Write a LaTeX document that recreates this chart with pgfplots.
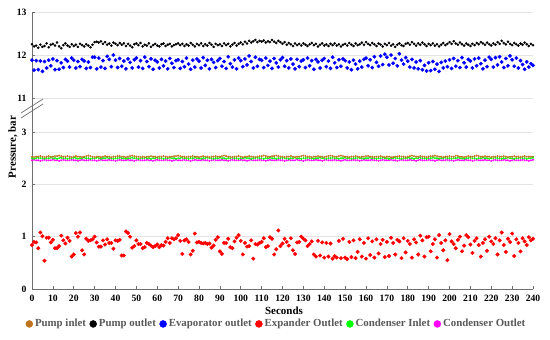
\documentclass[border=0pt]{standalone}
\usepackage{fontspec}
\setmainfont{Liberation Serif}
\usepackage{pgfplots}
\usepackage{pgfplotstable}
\pgfplotsset{compat=1.18}
\definecolor{brn}{HTML}{BF7320}
\definecolor{gridc}{HTML}{E4E4E4}
\definecolor{axc}{HTML}{6F6F6F}
\definecolor{legc}{HTML}{595959}
\definecolor{grn}{HTML}{00FF00}
\definecolor{mag}{HTML}{FF00FF}

\pgfplotstableread{
t pin pout evap expo cin cout
0 2.53 12.25 11.88 0.84 2.50 2.46
1 2.52 12.20 11.65 0.90 2.49 2.47
2 2.53 12.22 11.87 0.89 2.50 2.46
3 2.53 12.17 11.66 0.78 2.51 2.46
4 2.54 12.24 11.86 1.08 2.50 2.45
5 2.53 12.19 11.62 1.01 2.50 2.46
6 2.52 12.21 11.85 0.54 2.49 2.47
7 2.53 12.27 11.70 0.98 2.50 2.46
8 2.54 12.18 11.88 0.98 2.50 2.46
9 2.53 12.24 11.75 0.89 2.51 2.46
10 2.53 12.26 11.91 0.94 2.50 2.47
11 2.54 12.22 11.66 0.78 2.50 2.46
12 2.54 12.29 11.87 0.78 2.49 2.46
13 2.55 12.20 11.67 0.82 2.50 2.45
14 2.54 12.16 11.82 1.02 2.51 2.46
15 2.53 12.23 11.71 0.93 2.50 2.47
16 2.53 12.27 11.90 0.87 2.50 2.46
17 2.54 12.22 11.86 0.98 2.49 2.46
18 2.53 12.19 11.72 0.92 2.50 2.46
19 2.52 12.25 11.93 0.62 2.50 2.47
20 2.53 12.21 11.88 0.66 2.51 2.46
21 2.54 12.24 11.70 1.07 2.50 2.46
22 2.53 12.19 11.85 1.00 2.49 2.45
23 2.53 12.26 11.73 1.08 2.50 2.46
24 2.52 12.23 11.90 0.74 2.50 2.47
25 2.53 12.20 11.86 0.66 2.51 2.46
26 2.54 12.25 11.69 0.96 2.50 2.46
27 2.55 12.22 11.84 0.92 2.50 2.46
28 2.54 12.18 11.71 0.93 2.49 2.47
29 2.53 12.24 11.95 0.95 2.50 2.46
30 2.52 12.30 11.95 1.00 2.50 2.46
31 2.53 12.31 11.68 0.89 2.51 2.45
32 2.53 12.29 11.93 0.81 2.50 2.46
33 2.52 12.32 11.72 0.81 2.49 2.47
34 2.53 12.26 11.87 0.93 2.50 2.46
35 2.54 12.30 11.69 0.85 2.50 2.46
36 2.53 12.24 11.97 0.95 2.51 2.46
37 2.53 12.27 11.90 0.88 2.50 2.47
38 2.52 12.22 11.73 0.88 2.50 2.46
39 2.53 12.29 12.00 0.77 2.49 2.46
40 2.53 12.26 11.88 0.93 2.50 2.45
41 2.54 12.23 11.71 0.92 2.50 2.46
42 2.54 12.28 11.92 0.94 2.51 2.47
43 2.53 12.24 11.74 0.64 2.50 2.46
44 2.53 12.27 11.86 0.64 2.50 2.46
45 2.52 12.21 11.68 1.10 2.49 2.46
46 2.53 12.26 11.91 1.07 2.50 2.47
47 2.54 12.22 11.83 1.00 2.50 2.46
48 2.55 12.18 11.70 0.79 2.51 2.46
49 2.54 12.25 11.89 0.82 2.50 2.45
50 2.53 12.27 11.93 0.93 2.50 2.46
51 2.53 12.23 11.72 0.86 2.49 2.47
52 2.52 12.28 11.87 0.86 2.50 2.46
53 2.53 12.20 11.69 0.78 2.50 2.46
54 2.52 12.24 11.95 0.80 2.51 2.46
55 2.53 12.22 11.85 0.88 2.50 2.47
56 2.53 12.27 11.73 0.86 2.50 2.46
57 2.54 12.19 11.91 0.83 2.49 2.46
58 2.53 12.23 11.67 0.80 2.50 2.45
59 2.53 12.26 11.88 0.82 2.50 2.46
60 2.52 12.22 11.84 0.85 2.51 2.47
61 2.53 12.20 11.70 0.80 2.50 2.46
62 2.53 12.25 11.90 0.84 2.50 2.46
63 2.54 12.27 11.75 0.83 2.49 2.46
64 2.53 12.21 11.86 0.90 2.50 2.47
65 2.52 12.24 11.68 0.97 2.50 2.46
66 2.53 12.26 11.92 0.88 2.51 2.46
67 2.53 12.20 11.81 0.97 2.50 2.45
68 2.54 12.23 11.71 0.95 2.50 2.46
69 2.54 12.25 11.87 0.97 2.49 2.47
70 2.55 12.27 11.89 1.03 2.50 2.46
71 2.54 12.23 11.69 0.92 2.50 2.46
72 2.53 12.26 11.85 0.67 2.51 2.46
73 2.53 12.21 11.73 0.93 2.50 2.47
74 2.52 12.25 11.93 0.95 2.50 2.46
75 2.53 12.22 11.79 0.90 2.49 2.46
76 2.53 12.28 11.67 0.66 2.50 2.45
77 2.54 12.24 11.88 0.73 2.50 2.46
78 2.53 12.20 11.72 1.06 2.51 2.47
79 2.53 12.26 11.91 0.89 2.50 2.46
80 2.52 12.23 11.86 0.90 2.50 2.46
81 2.53 12.27 11.70 0.88 2.49 2.46
82 2.54 12.21 11.94 0.87 2.50 2.47
83 2.53 12.25 11.76 0.88 2.50 2.46
84 2.53 12.22 11.88 0.86 2.51 2.46
85 2.52 12.28 11.68 0.87 2.50 2.45
86 2.53 12.24 11.90 0.79 2.50 2.46
87 2.53 12.19 11.83 0.83 2.49 2.47
88 2.54 12.26 11.71 0.94 2.50 2.46
89 2.53 12.23 11.87 0.99 2.50 2.46
90 2.53 12.25 11.92 0.72 2.51 2.46
91 2.54 12.21 11.74 0.67 2.50 2.47
92 2.55 12.27 11.85 0.88 2.50 2.46
93 2.54 12.23 11.69 0.88 2.49 2.46
94 2.53 12.26 11.96 0.96 2.50 2.45
95 2.53 12.20 11.80 0.80 2.50 2.46
96 2.52 12.24 11.72 0.78 2.51 2.47
97 2.53 12.28 11.89 0.91 2.50 2.46
98 2.53 12.22 11.68 0.98 2.50 2.46
99 2.54 12.26 11.93 1.03 2.49 2.46
100 2.53 12.29 11.87 0.92 2.50 2.47
101 2.52 12.25 11.73 0.66 2.50 2.46
102 2.53 12.31 11.91 0.88 2.51 2.46
103 2.53 12.27 11.77 0.81 2.50 2.45
104 2.54 12.33 11.98 0.82 2.50 2.46
105 2.53 12.29 11.85 0.93 2.49 2.47
106 2.53 12.32 11.70 0.58 2.50 2.46
107 2.52 12.35 11.95 0.86 2.50 2.46
108 2.53 12.30 11.74 0.85 2.51 2.46
109 2.54 12.33 11.90 0.88 2.50 2.47
110 2.54 12.31 11.88 0.90 2.50 2.46
111 2.55 12.34 11.71 0.97 2.49 2.46
112 2.54 12.29 11.93 0.80 2.50 2.45
113 2.53 12.32 11.76 0.82 2.50 2.46
114 2.53 12.30 11.86 0.99 2.51 2.47
115 2.54 12.35 11.69 0.96 2.50 2.46
116 2.54 12.31 11.92 0.66 2.50 2.46
117 2.55 12.28 11.82 0.76 2.49 2.46
118 2.54 12.33 11.72 1.12 2.50 2.47
119 2.53 12.30 11.89 0.82 2.50 2.46
120 2.53 12.26 11.94 0.87 2.51 2.46
121 2.52 12.30 11.74 0.96 2.50 2.45
122 2.53 12.24 11.87 0.90 2.50 2.46
123 2.53 12.28 11.70 0.83 2.49 2.47
124 2.54 12.25 11.91 0.97 2.50 2.46
125 2.53 12.21 11.79 0.74 2.50 2.46
126 2.52 12.27 11.68 0.67 2.51 2.46
127 2.53 12.23 11.90 0.89 2.50 2.47
128 2.53 12.26 11.73 0.90 2.50 2.46
129 2.54 12.22 11.86 1.00 2.49 2.46
130 2.55 12.27 11.89 0.96 2.50 2.45
131 2.54 12.24 11.71 0.93 2.50 2.46
132 2.53 12.21 11.93 0.82 2.51 2.47
133 2.53 12.25 11.75 0.86 2.50 2.46
134 2.52 12.28 11.87 0.91 2.50 2.46
135 2.53 12.23 11.67 0.66 2.49 2.46
136 2.53 12.26 11.90 0.62 2.50 2.47
137 2.54 12.20 11.84 0.92 2.50 2.46
138 2.53 12.24 11.70 0.64 2.51 2.46
139 2.53 12.27 11.88 0.89 2.50 2.45
140 2.52 12.22 11.92 0.60 2.50 2.46
141 2.53 12.25 11.73 0.88 2.49 2.47
142 2.54 12.21 11.86 0.62 2.50 2.46
143 2.55 12.26 11.69 0.87 2.50 2.46
144 2.54 12.23 11.95 0.58 2.51 2.46
145 2.53 12.27 11.82 0.63 2.50 2.47
146 2.53 12.22 11.71 0.60 2.50 2.46
147 2.54 12.25 11.89 0.92 2.49 2.46
148 2.55 12.20 11.74 0.59 2.50 2.45
149 2.54 12.24 11.91 0.96 2.50 2.46
150 2.53 12.26 11.87 0.60 2.51 2.47
151 2.53 12.22 11.70 0.57 2.50 2.46
152 2.52 12.28 11.84 0.90 2.50 2.46
153 2.53 12.24 11.66 0.61 2.49 2.46
154 2.53 12.21 11.88 0.93 2.50 2.47
155 2.54 12.27 11.79 0.59 2.50 2.46
156 2.53 12.23 11.68 0.71 2.51 2.46
157 2.52 12.25 11.86 0.95 2.50 2.45
158 2.53 12.29 11.72 0.62 2.50 2.46
159 2.53 12.24 11.90 0.88 2.49 2.47
160 2.54 12.30 11.93 0.58 2.50 2.46
161 2.54 12.26 11.75 0.97 2.50 2.46
162 2.53 12.23 11.89 0.65 2.51 2.46
163 2.53 12.28 11.71 0.91 2.50 2.47
164 2.52 12.25 11.96 0.60 2.50 2.46
165 2.53 12.21 11.83 0.95 2.49 2.46
166 2.53 12.27 11.74 0.68 2.50 2.45
167 2.54 12.24 11.98 0.86 2.50 2.46
168 2.53 12.20 11.78 0.94 2.51 2.47
169 2.52 12.26 12.02 0.61 2.50 2.46
170 2.53 12.23 11.95 0.90 2.50 2.46
171 2.53 12.28 11.77 0.63 2.49 2.46
172 2.52 12.22 12.00 0.98 2.50 2.47
173 2.52 12.25 11.81 0.88 2.50 2.46
174 2.53 12.19 11.92 0.66 2.51 2.46
175 2.53 12.24 11.75 0.94 2.50 2.45
176 2.54 12.27 12.03 0.91 2.50 2.46
177 2.53 12.23 11.88 0.59 2.49 2.47
178 2.53 12.21 11.79 0.97 2.50 2.46
179 2.52 12.26 11.94 0.70 2.50 2.46
180 2.53 12.28 11.86 0.92 2.51 2.46
181 2.54 12.24 11.72 0.86 2.50 2.47
182 2.55 12.30 11.90 0.60 2.50 2.46
183 2.54 12.26 11.70 0.95 2.49 2.46
184 2.53 12.22 11.84 0.89 2.50 2.45
185 2.53 12.27 11.68 0.66 2.50 2.46
186 2.54 12.24 11.87 1.02 2.51 2.47
187 2.53 12.29 11.66 0.93 2.50 2.46
188 2.53 12.25 11.76 0.62 2.50 2.46
189 2.52 12.21 11.63 0.99 2.49 2.46
190 2.53 12.26 11.82 1.00 2.50 2.47
191 2.54 12.23 11.64 0.72 2.50 2.46
192 2.54 12.27 11.85 0.86 2.51 2.46
193 2.55 12.22 11.67 0.95 2.50 2.45
194 2.54 12.25 11.79 0.60 2.50 2.46
195 2.53 12.20 11.62 1.03 2.49 2.47
196 2.53 12.24 11.83 0.88 2.50 2.46
197 2.52 12.28 11.70 0.74 2.50 2.46
198 2.53 12.23 11.86 0.93 2.51 2.46
199 2.53 12.26 11.73 0.55 2.50 2.47
200 2.54 12.30 11.89 1.05 2.50 2.46
201 2.53 12.26 11.69 0.91 2.49 2.46
202 2.53 12.32 11.92 0.86 2.50 2.45
203 2.55 12.27 11.74 0.78 2.50 2.46
204 2.54 12.24 11.87 0.94 2.51 2.47
205 2.53 12.29 11.71 1.00 2.50 2.46
206 2.53 12.25 11.94 0.72 2.50 2.46
207 2.52 12.22 11.82 0.83 2.49 2.46
208 2.53 12.27 11.72 1.03 2.50 2.47
209 2.54 12.24 11.90 0.99 2.50 2.46
210 2.53 12.21 11.86 0.85 2.51 2.46
211 2.53 12.26 11.70 0.69 2.50 2.45
212 2.54 12.23 11.91 0.92 2.50 2.46
213 2.55 12.28 11.75 0.97 2.49 2.47
214 2.54 12.25 11.93 0.84 2.50 2.46
215 2.53 12.30 11.80 0.62 2.50 2.46
216 2.53 12.27 11.68 0.88 2.51 2.46
217 2.54 12.24 11.88 0.95 2.50 2.47
218 2.53 12.29 11.73 0.73 2.50 2.46
219 2.53 12.25 11.95 1.00 2.49 2.46
220 2.52 12.22 11.90 0.91 2.50 2.45
221 2.53 12.27 11.72 0.86 2.50 2.46
222 2.53 12.24 11.94 0.97 2.51 2.47
223 2.54 12.30 11.77 0.66 2.50 2.46
224 2.53 12.26 11.96 0.93 2.50 2.46
225 2.53 12.33 11.84 1.08 2.49 2.46
226 2.54 12.28 11.71 0.84 2.50 2.47
227 2.53 12.25 11.92 0.71 2.50 2.46
228 2.52 12.31 11.75 0.96 2.51 2.46
229 2.53 12.26 11.98 0.90 2.50 2.45
230 2.53 12.23 11.89 1.06 2.50 2.46
231 2.54 12.28 11.74 0.63 2.49 2.47
232 2.53 12.25 11.93 0.95 2.50 2.46
233 2.53 12.22 11.70 0.88 2.50 2.46
234 2.52 12.27 11.87 0.72 2.51 2.46
235 2.53 12.24 11.78 0.97 2.50 2.47
236 2.54 12.29 11.67 0.91 2.50 2.46
237 2.53 12.25 11.84 0.84 2.49 2.46
238 2.53 12.21 11.72 0.99 2.50 2.45
239 2.53 12.26 11.80 0.93 2.50 2.46
240 2.53 12.23 11.76 0.96 2.51 2.47
}\data

\pgfplotsset{
  common/.style={
    scale only axis, width=501bp,
    xmin=0, xmax=240,
    axis y line*=left,
    tick align=inside, major tick length=3bp,
    ymajorgrids, grid style={gridc, line width=0.5pt},
    axis line style={axc, line width=0.8pt},
    tick style={axc, line width=0.6pt},
    ticklabel style={font=\bfseries\fontsize{9.7}{10}\selectfont},
    /pgf/number format/assume math mode=true,
    yticklabel style={xshift=-2bp},
  },
  dots/.style={only marks, mark=*, mark size=#1, mark options={draw=none}},
}

\begin{document}
\begin{tikzpicture}[x=1bp,y=1bp]
\useasboundingbox (0,0) rectangle (550,339);

% lower panel
\begin{axis}[common, at={(32bp,50bp)}, anchor=south west, height=181bp,
  ymin=0, ymax=3.46, ytick={0,1,2,3},
  axis x line*=bottom, xtick={0,10,...,240},
  xticklabel style={yshift=-3bp},
  legend style={at={(0.488,-0.193)}, anchor=center, draw=none, fill=none,
    legend columns=6, font=\bfseries\fontsize{10.9}{12}\selectfont, text=legc,
    inner sep=0pt,
    /tikz/every even column/.append style={column sep=1.5bp},
    /tikz/every odd column/.append style={column sep=0bp}},
  legend image code/.code={\fill[#1] (0.12cm,0cm) circle (3.5bp);},
]
\addlegendimage{brn}\addlegendentry{Pump inlet}
\addlegendimage{black}\addlegendentry{Pump outlet}
\addlegendimage{blue}\addlegendentry{Evaporator outlet}
\addlegendimage{red}\addlegendentry{Expander Outlet}
\addlegendimage{grn}\addlegendentry{Condenser Inlet}
\addlegendimage{mag}\addlegendentry{Condenser Outlet}
\addplot[dots=0.8, color=mag, forget plot] table[x=t, y=cout]{\data};
\addplot[dots=0.8, color=grn, forget plot] table[x=t, y=cin]{\data};
\addplot[dots=0.8, color=brn, forget plot] table[x=t, y=pin]{\data};
\addplot[dots=1.8, color=red, forget plot] table[x=t, y=expo]{\data};
\end{axis}

% upper panel
\begin{axis}[common, at={(32bp,231bp)}, anchor=south west, height=96bp,
  ymin=10.77, ymax=13, ytick={11,12,13},
  axis x line=none,
]
\addplot[dots=1.1, color=black] table[x=t, y=pout]{\data};
\addplot[dots=1.7, color=blue] table[x=t, y=evap]{\data};
\end{axis}

% axis break marks
\draw[axc, line width=0.7pt] (21,221) -- (43,235);
\draw[axc, line width=0.7pt] (21,226) -- (43,240);

\node[rotate=90, font=\bfseries\fontsize{11}{13}\selectfont] at (13,192) {Pressure, bar};
\node[font=\bfseries\fontsize{11}{13}\selectfont] at (284,28) {Seconds};
\end{tikzpicture}
\end{document}
